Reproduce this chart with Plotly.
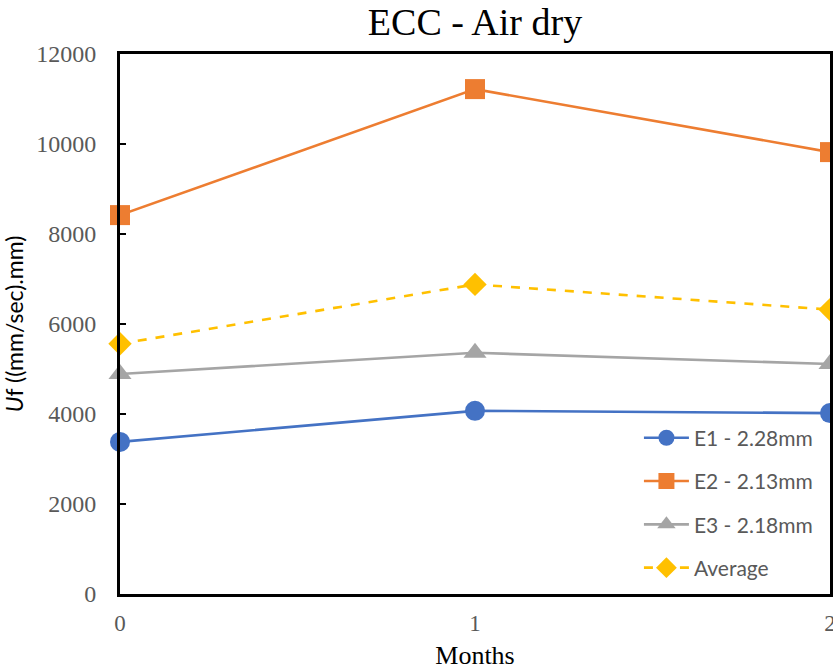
import plotly.graph_objects as go

# Test ages (months)
months = [0, 1, 2]

# Uf values per specimen, (mm/sec).mm
e1_values = [3380, 4070, 4020]
e2_values = [8420, 11220, 9820]
e3_values = [4890, 5360, 5110]
avg_values = [5560, 6880, 6320]

series_names = ["E1 - 2.28mm", "E2 - 2.13mm", "E3 - 2.18mm", "Average"]
y_ticks = [0, 2000, 4000, 6000, 8000, 10000, 12000]
x_ticks = [0, 1, 2]

styles = [
    dict(color="#4472C4", symbol="circle", dash="solid", size=20),
    dict(color="#ED7D31", symbol="square", dash="solid", size=20),
    dict(color="#A5A5A5", symbol="triangle-up", dash="solid", size=20),
    dict(color="#FFC000", symbol="diamond", dash="dash", size=18),
]

fig = go.Figure()
for i, (name, vals, st) in enumerate(zip(series_names,
                                         [e1_values, e2_values, e3_values, avg_values],
                                         styles)):
    fig.add_trace(go.Scatter(
        x=months, y=vals, name=name, mode="lines+markers",
        legendgroup=f"g{i}",
        line=dict(color=st["color"], width=2.6, dash=st["dash"]),
        marker=dict(color=st["color"], symbol=st["symbol"], size=st["size"],
                    line=dict(width=0)),
        cliponaxis=False,
    ))

serif = "Liberation Serif, Times New Roman, serif"
sans = "Lato, Carlito, Calibri, sans-serif"

fig.update_layout(
    width=833, height=670,
    margin=dict(l=120, r=3, t=54, b=76, autoexpand=False),
    paper_bgcolor="white", plot_bgcolor="white",
    title=dict(text="ECC - Air dry", x=0.5, xref="paper", xanchor="center",
               y=1 - 22 / 670, yref="container", yanchor="middle",
               font=dict(family=serif, size=38, color="black")),
    showlegend=True,
    legend=dict(x=0.983, xanchor="right", y=0.01, yanchor="bottom",
                bgcolor="white", borderwidth=0,
                traceorder="grouped", tracegroupgap=13,
                font=dict(family=sans, size=21, color="#595959"),
                itemwidth=45),
    xaxis=dict(range=[0, 2], tickvals=x_ticks, ticktext=[str(t) for t in x_ticks],
               showgrid=False, zeroline=False, automargin=False,
               ticklabeloverflow="allow",
               showline=True, linecolor="black", linewidth=3, mirror=True,
               ticks="", ticklabelstandoff=6,
               tickfont=dict(family=serif, size=23, color="#595959"),
               title=dict(text="Months", standoff=12,
                          font=dict(family=serif, size=26, color="black"))),
    yaxis=dict(range=[0, 12000], tickvals=y_ticks, ticktext=[str(t) for t in y_ticks],
               showgrid=False, zeroline=False, automargin=False,
               showline=True, linecolor="black", linewidth=3, mirror=True,
               ticks="inside", ticklen=6, tickwidth=2, tickcolor="black",
               ticklabelstandoff=16,
               tickfont=dict(family=serif, size=24, color="#595959"),
               title=dict(text="<i>U</i>f ((mm/sec).mm)", standoff=8,
                          font=dict(family=sans, size=23, color="black"))),
)

fig.write_html("out.html")
